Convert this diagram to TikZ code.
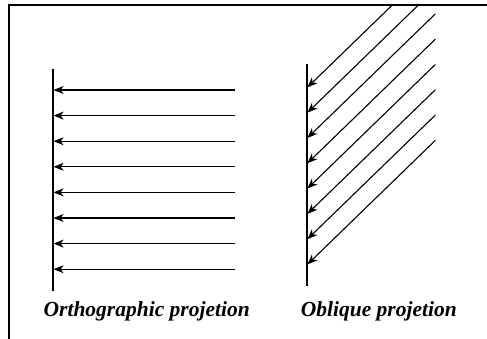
\documentclass[tikz,border=0pt]{standalone}
\usepackage{fontspec}
\setmainfont{Liberation Serif}
\usetikzlibrary{arrows.meta}

\begin{document}
\begin{tikzpicture}[x=1pt, y=-1pt,
  screen/.style={line width=1.8pt},
  ray/.style={line width=1.1pt, -{Stealth[length=10pt, width=8pt, inset=3pt]}},
  caption/.style={anchor=base, inner sep=0pt, font=\bfseries\itshape\fontsize{21.5}{24}\selectfont}
]
  \useasboundingbox (0,0) rectangle (487,339);

  % orthographic: parallel rays, perpendicular to the plane
  \coordinate (ortho-top) at (52.7,69);
  \coordinate (ortho-bot) at (52.7,291);
  \draw[screen] (ortho-top) -- (ortho-bot);
  \foreach \i in {0,...,7} {
    \coordinate (o-s\i) at (235.3,90+25.6*\i);
    \coordinate (o-e\i) at (53.6,90+25.6*\i);
    \draw[ray] (o-s\i) -- (o-e\i);
  }

  % oblique: parallel rays at an angle
  \coordinate (obl-top) at (306.7,64.3);
  \coordinate (obl-bot) at (306.7,286);
  \draw[screen] (obl-top) -- (obl-bot);
  \begin{scope}
    \clip (9,5) rectangle (487,339);
    \foreach \i in {0,...,7} {
      \coordinate (b-s\i) at (435.3,87.3+25.3*\i-124);
      \coordinate (b-e\i) at (307.5,87.3+25.3*\i);
      \draw[ray] (b-s\i) -- (b-e\i);
    }
  \end{scope}

  \node[caption] (ortho-label) at (146.7,316) {Orthographic projetion};
  \node[caption] (obl-label) at (378.8,316) {Oblique projetion};

  % frame
  \draw[line width=2.2pt] (9,339) -- (9,5) -- (487,5);
\end{tikzpicture}
\end{document}
